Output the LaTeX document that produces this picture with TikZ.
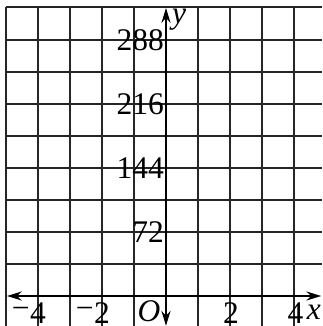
\documentclass[tikz,border=0pt]{standalone}
\usepackage{fontspec}
\setmainfont{Liberation Serif}
\usetikzlibrary{arrows.meta}
\begin{document}
\begin{tikzpicture}[
  gridline/.style={line width=1.2pt, black!85},
  axisline/.style={line width=2.2pt, black, {Stealth[length=4.6mm,width=2.8mm]}-{Stealth[length=4.6mm,width=2.8mm]}},
  lbl/.style={inner sep=0pt, font=\fontsize{28}{30}\selectfont},
  ylbl/.style={lbl, anchor=east}
]
\useasboundingbox (-5.1875,-0.9375) rectangle (4.875,9.25);
% grid
\foreach \x in {-5,-4,-3,-2,-1,1,2,3,4} \draw[gridline] (\x,9.03) -- (\x,-0.9375);
\foreach \y in {1,...,8} \draw[gridline] (-5,\y) -- (4.875,\y);
\draw[gridline] (-5,9.03) -- (4.875,9.03);
% axes
\coordinate (xl) at (-4.97,0);
\coordinate (xr) at (4.85,0);
\coordinate (yb) at (0,-0.93);
\coordinate (yt) at (0,9.0);
\draw[axisline] (xl) -- (xr);
\draw[axisline] (yb) -- (yt);
% labels
\node[lbl] (xlab) at (4.62,-0.5) {\itshape x};
\node[lbl] (ylab) at (0.41,8.62) {\itshape y};
\node[lbl] (olab) at (-0.53,-0.47) {\itshape O};
\node[lbl] (m4) at (-4,-0.54) {4};
\node[lbl, anchor=east] (m4m) at (m4.west) {−};
\node[lbl] (m2) at (-2,-0.54) {2};
\node[lbl, anchor=east] (m2m) at (m2.west) {−};
\node[lbl] (p2) at (2.03,-0.54) {2};
\node[lbl] (p4) at (4.05,-0.54) {4};
\node[ylbl] (l72) at (-0.06,2) {72};
\node[ylbl] (l144) at (-0.06,4) {144};
\node[ylbl] (l216) at (-0.06,6) {216};
\node[ylbl] (l288) at (-0.06,8) {288};
\end{tikzpicture}
\end{document}
